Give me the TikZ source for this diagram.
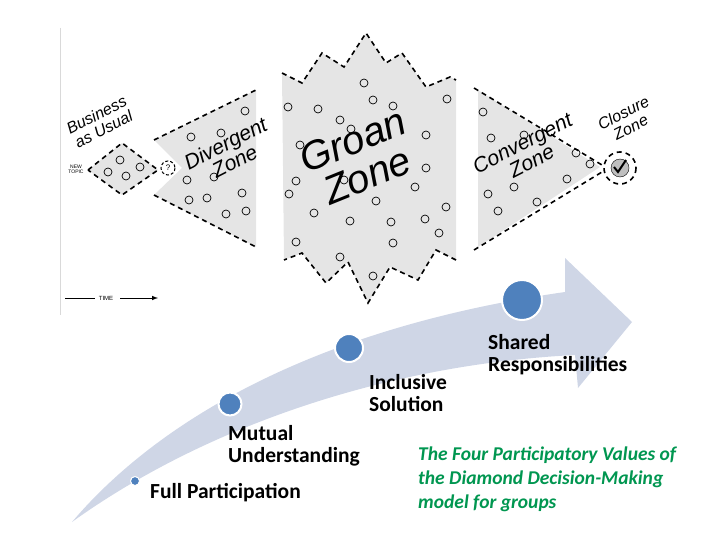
\documentclass[tikz,border=0pt]{standalone}
\usepackage{fontspec}
\setmainfont{Carlito}
\newfontfamily\hv{Liberation Sans}
\begin{document}
\begin{tikzpicture}[x=1pt,y=-1pt,
  dsh/.style={draw=black,line width=1.6pt,dash pattern=on 5pt off 4pt},
  zone/.style={fill=black!10},
  sc/.style={circle,draw,line width=0.7pt,inner sep=0pt,minimum size=8pt},
  dot/.style={circle,fill=myblue,draw=white,line width=2pt,inner sep=0pt},
  ztxt/.style={font=\hv\itshape,align=center,inner sep=0pt},
  lbl/.style={font=\bfseries\fontsize{21.5}{22}\selectfont,align=left,anchor=north west,inner sep=0pt}]
\definecolor{myblue}{RGB}{79,129,189}
\definecolor{band}{RGB}{207,214,230}
\definecolor{grn}{RGB}{0,150,80}
\useasboundingbox (0,0) rectangle (720,540);
\draw[black!15,line width=1pt] (60,28) -- (60,315);
% arrow band
\fill[band] (72,522) .. controls (150,430) and (300,330) .. (565,292) -- (565,258) -- (632,322) -- (578,388) -- (575,355) .. controls (380,365) and (200,430) .. (72,522) -- cycle;
% Business as usual
\fill[zone] (88,170) -- (122,143) -- (158,170) -- (122,195) -- cycle;
\draw[dsh] (88,170) -- (122,143) -- (158,170) -- (122,195) -- cycle;
\node[font=\hv\fontsize{5}{5}\selectfont,align=center] (nt) at (76,169) {NEW\\TOPIC};
\foreach \p in {(120,160),(108,172),(126,176),(140,167)} \node[sc] at \p {};
\draw[dsh,line width=1pt,dash pattern=on 3pt off 2pt] (168,168) circle (7);
\node[font=\hv\fontsize{8}{8}\selectfont] (qm) at (168,168) {?};
% Divergent
\fill[zone] (154,140) -- (256,90) -- (256,247) -- (154,195) -- (182,168) -- cycle;
\draw[dsh] (154,140) -- (256,90);
\draw[dsh] (154,195) -- (256,247);
\foreach \p in {(245,111),(191,137),(221,133),(187,180),(214,177),(189,200),(207,198),(242,193),(226,214),(246,211)} \node[sc] at \p {};
% Groan
\fill[zone] (282,73) -- (302,83) -- (322,53) -- (344,67) -- (366,33) -- (386,63) -- (402,53) -- (426,87) -- (450,77) -- (456,80) -- (456,260) -- (436,250) -- (418,280) -- (390,267) -- (368,303) -- (348,262) -- (326,283) -- (302,253) -- (284,260) -- cycle;
\draw[dsh] (282,73) -- (302,83) -- (322,53) -- (344,67) -- (366,33) -- (386,63) -- (402,53) -- (426,87) -- (450,77) -- (456,80);
\draw[dsh] (456,260) -- (436,250) -- (418,280) -- (390,267) -- (368,303) -- (348,262) -- (326,283) -- (302,253) -- (284,260);
\foreach \p in {(364,83),(288,107),(318,109),(373,100),(393,106),(447,99),(340,120),(351,129),(426,135),(300,145),(426,168),(296,181),(344,180),(289,194),(415,187),(376,201),(446,207),(314,213),(350,221),(391,222),(425,219),(439,233),(296,242),(393,243),(340,257),(373,276)} \node[sc] at \p {};
% Convergent
\fill[zone] (478,90) -- (600,167) -- (478,247) -- cycle;
\draw[dsh] (474,88) -- (602,165);
\draw[dsh] (474,250) -- (602,172);
\foreach \p in {(483,112),(491,138),(524,135),(576,153),(590,164),(514,187),(488,194),(567,179),(537,202),(498,211)} \node[sc] at \p {};
% Closure
\draw[dsh] (620,168) circle (16);
\fill[black!25] (620,168) circle (9);
\draw (620,168) circle (9);
\draw[black,line width=2pt] (614,167) -- (618,172) -- (626,160);
% zone texts
\node[ztxt,font=\hv\itshape\fontsize{16}{16}\selectfont,rotate=27] (bu) at (100,122) {Business\\as Usual};
\node[ztxt,font=\hv\itshape\fontsize{21}{20}\selectfont,rotate=27] (dz) at (230,152) {Divergent\\Zone};
\node[ztxt,font=\hv\itshape\fontsize{40}{38}\selectfont,rotate=22] (gz) at (360,158) {Groan\\Zone};
\node[ztxt,font=\hv\itshape\fontsize{21}{20}\selectfont,rotate=27] (cz) at (527,152) {Convergent\\Zone};
\node[ztxt,font=\hv\itshape\fontsize{16}{16}\selectfont,rotate=27] (clz) at (627,120) {Closure\\Zone};
% time
\draw[line width=0.8pt] (65,298) -- (95,298);
\node[font=\hv\fontsize{6}{6}\selectfont] (tm) at (106,298) {TIME};
\draw[line width=1pt,-latex] (120,298) -- (158,298);
% dots
\node[dot,minimum size=9pt,line width=1pt] (d1) at (135,481) {};
\node[dot,minimum size=23pt] (d2) at (230,404) {};
\node[dot,minimum size=28pt] (d3) at (349,348) {};
\node[dot,minimum size=40pt] (d4) at (522,300) {};
% labels
\node[lbl] (l1) at (150,483) {Full Participation};
\node[lbl] (l2) at (228,425) {Mutual\\Understanding};
\node[lbl] (l3) at (369,374) {Inclusive\\Solution};
\node[lbl] (l4) at (488,334) {Shared\\Responsibilities};
\node[lbl,text=grn,font=\bfseries\itshape\fontsize{19.5}{24}\selectfont] (l5) at (418,447) {The Four Participatory Values of\\the Diamond Decision-Making\\model for groups};
\end{tikzpicture}
\end{document}
